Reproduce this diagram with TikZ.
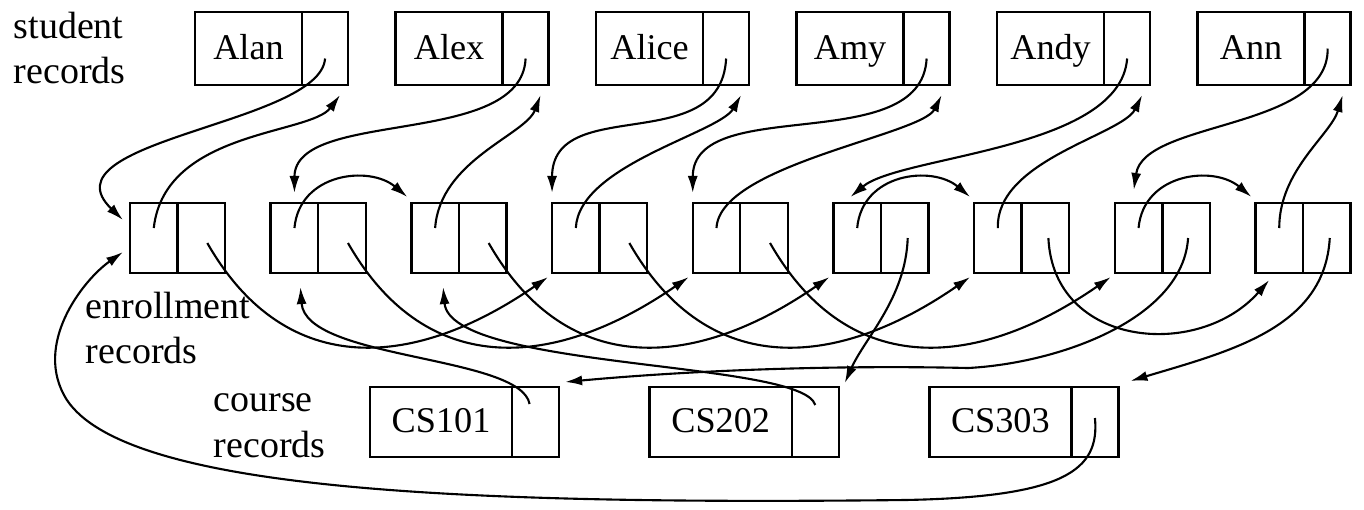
\documentclass[tikz,border=0pt]{standalone}
\usepackage{fontspec}
\setmainfont{Liberation Serif}
\usepackage{tikz}
\usetikzlibrary{arrows.meta, positioning}

\begin{document}
\begin{tikzpicture}[
        x=0.01cm, y=-0.01cm,
        cell/.style={draw, line width=0.7pt, inner sep=0pt, outer sep=0pt},
        sname/.style={cell, minimum width=1.07cm, minimum height=0.73cm, text height=1.6ex, text depth=0.3ex, font=\fontsize{10.3}{12}\selectfont},
        sptr/.style={cell, minimum width=0.46cm, minimum height=0.73cm},
        ecell/.style={cell, minimum width=0.475cm, minimum height=0.70cm},
        cname/.style={cell, minimum width=1.42cm, minimum height=0.70cm, text height=1.6ex, text depth=0.3ex, font=\fontsize{10.3}{12}\selectfont},
        cptr/.style={cell, minimum width=0.47cm, minimum height=0.70cm},
        lbl/.style={align=left, inner sep=0pt, anchor=north west, font=\fontsize{10.8}{13}\selectfont},
        link/.style={-{Latex[length=1.7mm, width=1mm]}, line width=0.6pt}
    ]
    \useasboundingbox (0,0) rectangle (1364,510);

        % Labels
        \node[lbl] (stu-lbl) at (13,11) {student\\records};
        \node[lbl] (enr-lbl) at (85,291) {enrollment\\records};
        \node[lbl] (crs-lbl) at (213,393) {course\\records};

        % Student records
        \node[sname, anchor=north west] (alan) at (195,12) {Alan};
        \node[sptr, right=0pt of alan] (alan-p) {};
        \node[sname, right=0.474cm of alan-p] (alex) {Alex};
        \node[sptr, right=0pt of alex] (alex-p) {};
        \node[sname, right=0.474cm of alex-p] (alice) {Alice};
        \node[sptr, right=0pt of alice] (alice-p) {};
        \node[sname, right=0.474cm of alice-p] (amy) {Amy};
        \node[sptr, right=0pt of amy] (amy-p) {};
        \node[sname, right=0.474cm of amy-p] (andy) {Andy};
        \node[sptr, right=0pt of andy] (andy-p) {};
        \node[sname, right=0.474cm of andy-p] (ann) {Ann};
        \node[sptr, right=0pt of ann] (ann-p) {};

        % Enrollment records
        \node[ecell, anchor=north west] (e1-l) at (130,203) {};
        \node[ecell, right=0pt of e1-l] (e1-r) {};
        \node[ecell, right=0.456cm of e1-r] (e2-l) {};
        \node[ecell, right=0pt of e2-l] (e2-r) {};
        \node[ecell, right=0.456cm of e2-r] (e3-l) {};
        \node[ecell, right=0pt of e3-l] (e3-r) {};
        \node[ecell, right=0.456cm of e3-r] (e4-l) {};
        \node[ecell, right=0pt of e4-l] (e4-r) {};
        \node[ecell, right=0.456cm of e4-r] (e5-l) {};
        \node[ecell, right=0pt of e5-l] (e5-r) {};
        \node[ecell, right=0.456cm of e5-r] (e6-l) {};
        \node[ecell, right=0pt of e6-l] (e6-r) {};
        \node[ecell, right=0.456cm of e6-r] (e7-l) {};
        \node[ecell, right=0pt of e7-l] (e7-r) {};
        \node[ecell, right=0.456cm of e7-r] (e8-l) {};
        \node[ecell, right=0pt of e8-l] (e8-r) {};
        \node[ecell, right=0.456cm of e8-r] (e9-l) {};
        \node[ecell, right=0pt of e9-l] (e9-r) {};

        % Course records
        \node[cname, anchor=north west] (cs101) at (370,387) {CS101};
        \node[cptr, right=0pt of cs101] (cs101-p) {};
        \node[cname, right=0.905cm of cs101-p] (cs202) {CS202};
        \node[cptr, right=0pt of cs202] (cs202-p) {};
        \node[cname, right=0.905cm of cs202-p] (cs303) {CS303};
        \node[cptr, right=0pt of cs303] (cs303-p) {};

        % Student lists
        \draw[link] ([yshift=-1mm]alan-p.center) .. controls +(-5,66) and +(-83,-80) .. ([xshift=-0.7mm,yshift=1.8mm]e1-l.west);
        \draw[link] ([yshift=1mm]e1-l.center) .. controls +(11,-98) and +(-30,40) .. ([xshift=-0.8mm,yshift=-1mm]alan-p.south east);

        \draw[link] ([yshift=-1mm]alex-p.center) .. controls +(-4,90) and +(0,-85) .. ([yshift=1mm]e2-l.north);
        \draw[link] ([yshift=1mm]e2-l.center) .. controls +(5,-55) and +(-38,-32) .. ([xshift=-0.4mm,yshift=0.6mm]e3-l.north west);
        \draw[link] ([yshift=1mm]e3-l.center) .. controls +(5,-68) and +(-15,40) .. ([xshift=-0.8mm,yshift=-1mm]alex-p.south east);

        \draw[link] ([yshift=-1mm]alice-p.center) .. controls +(-5,100) and +(0,-100) .. ([yshift=1mm]e4-l.north west);
        \draw[link] ([yshift=1mm]e4-l.center) .. controls +(3,-63) and +(-22,38) .. ([xshift=-0.8mm,yshift=-1mm]alice-p.south east);

        \draw[link] ([yshift=-1mm]amy-p.center) .. controls +(-5,100) and +(0,-100) .. ([yshift=1mm]e5-l.north west);
        \draw[link] ([yshift=1mm]e5-l.center) .. controls +(3,-63) and +(-20,40) .. ([xshift=-0.8mm,yshift=-1mm]amy-p.south east);

        \draw[link] ([yshift=-1mm]andy-p.center) .. controls +(-7,92) and +(50,-42) .. ([xshift=1.7mm,yshift=0.6mm]e6-l.north west);
        \draw[link] ([yshift=1mm]e6-l.center) .. controls +(5,-55) and +(-38,-32) .. ([xshift=-0.4mm,yshift=0.6mm]e7-l.north west);
        \draw[link] ([yshift=1mm]e7-l.center) .. controls +(-2,-68) and +(-20,40) .. ([xshift=-0.8mm,yshift=-1mm]andy-p.south east);

        \draw[link] (ann-p.center) .. controls +(1,82) and +(10,-70) .. ([xshift=1.9mm,yshift=1.3mm]e8-l.north west);
        \draw[link] ([yshift=1mm]e8-l.center) .. controls +(5,-55) and +(-38,-32) .. ([xshift=-0.4mm,yshift=0.6mm]e9-l.north west);
        \draw[link] ([yshift=1mm]e9-l.center) .. controls +(0,-58) and +(-12,40) .. ([xshift=-0.8mm,yshift=-1mm]ann-p.south east);

        % Course lists
        \draw[link] ([xshift=-0.6mm,yshift=1.8mm]cs101-p.center) .. controls +(-9,-49) and +(5,73) .. ([xshift=0.6mm,yshift=-1.4mm]e2-l.south);
        \draw[link] ([xshift=0.6mm,yshift=-0.5mm]e2-r.center) .. controls +(80,140) and +(-130,90) .. ([xshift=-0.4mm,yshift=-0.4mm]e5-l.south west);
        \draw[link] ([xshift=0.6mm,yshift=-0.5mm]e5-r.center) .. controls +(80,140) and +(-130,90) .. ([xshift=-0.4mm,yshift=-0.4mm]e8-l.south west);
        \draw[link] ([xshift=0.2mm]e8-r.center) .. controls +(-5,80) and +(93,-5) .. ++(-220,130) .. controls +(-130,-3) and +(130,-12) .. ([xshift=0.6mm,yshift=0.5mm]cs101-p.north east);

        \draw[link] ([yshift=1.7mm]cs202-p.center) .. controls +(-13,-45) and +(7,83) .. ([xshift=0.8mm,yshift=-1.4mm]e3-l.south);
        \draw[link] ([xshift=0.6mm,yshift=-0.5mm]e3-r.center) .. controls +(80,140) and +(-130,90) .. ([xshift=-0.4mm,yshift=-0.4mm]e6-l.south west);
        \draw[link] ([xshift=0.3mm]e6-r.center) .. controls +(-2,60) and +(20,-45) .. ([xshift=0.6mm,yshift=0.4mm]cs202-p.north east);

        \draw[link] ([yshift=0.4mm]cs303-p.center) .. controls +(5,52) and +(160,-3) .. ++(-190,82) .. controls +(-450,5) and +(60,90) .. ++(-838,-100) .. controls +(-35,-55) and +(-40,28) .. ([xshift=-0.7mm,yshift=-1.4mm]e1-l.west);
        \draw[link] ([xshift=0.6mm,yshift=-0.5mm]e1-r.center) .. controls +(80,140) and +(-130,90) .. ([xshift=-0.4mm,yshift=-0.4mm]e4-l.south west);
        \draw[link] ([xshift=0.6mm,yshift=-0.5mm]e4-r.center) .. controls +(80,140) and +(-130,90) .. ([xshift=-0.4mm,yshift=-0.4mm]e7-l.south west);
        \draw[link] ([xshift=0.3mm]e7-r.center) .. controls +(5,110) and +(-70,80) .. ([xshift=-1mm,yshift=-0.7mm]e9-l.south);
        \draw[link] ([xshift=0.3mm]e9-r.center) .. controls +(-5,90) and +(100,-30) .. ([xshift=1.2mm,yshift=0.6mm]cs303-p.north east);

    \end{tikzpicture}
\end{document}
